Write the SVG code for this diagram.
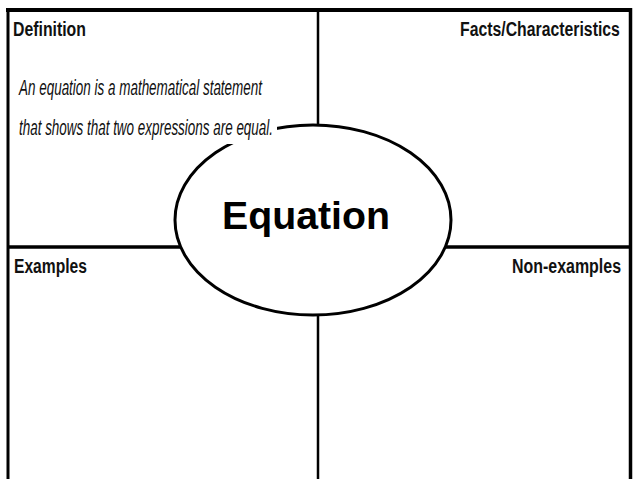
<svg xmlns="http://www.w3.org/2000/svg" width="638" height="479" viewBox="0 0 638 479">
<style>
.line{stroke:#000;fill:none;stroke-linecap:butt}
.lbl{font-family:"Liberation Sans",Arial,sans-serif;font-weight:bold;font-size:21px;fill:#111}
.def{font-family:"Liberation Sans",Arial,sans-serif;font-style:italic;font-size:22px;fill:#111}
.main{font-family:"Liberation Sans",Arial,sans-serif;font-weight:bold;font-size:38px;fill:#000}
</style>
<rect width="638" height="479" fill="#fff"/>
<g id="connectors">
<line class="line" x1="6" y1="10" x2="632" y2="10" stroke-width="4"/>
<line class="line" x1="8" y1="8" x2="8" y2="479" stroke-width="3"/>
<line class="line" x1="630.5" y1="8" x2="630.5" y2="479" stroke-width="3.5"/>
<line class="line" x1="318" y1="10" x2="318" y2="479" stroke-width="2.5"/>
<line class="line" x1="8" y1="247" x2="631" y2="247" stroke-width="3.5"/>
</g>
<g id="definition">
<text class="lbl" transform="translate(13,35.5) scale(0.754,1)">Definition</text>
</g>
<g id="facts">
<text class="lbl" transform="translate(460,35.5) scale(0.753,1)">Facts/Characteristics</text>
</g>
<g id="examples">
<text class="lbl" transform="translate(14,272.5) scale(0.745,1)">Examples</text>
</g>
<g id="nonexamples">
<text class="lbl" transform="translate(512,272.5) scale(0.76,1)">Non-examples</text>
</g>
<g id="equation">
<ellipse cx="313" cy="220" rx="138" ry="95" fill="#fff" stroke="#000" stroke-width="3"/>
<text class="main" x="222" y="228.5" textLength="168" lengthAdjust="spacingAndGlyphs">Equation</text>
</g>
<g id="definition-text">
<rect x="10" y="66" width="267" height="78" fill="#fff"/>
<text class="def" x="19" y="95" textLength="243" lengthAdjust="spacingAndGlyphs">An equation is a mathematical statement</text>
<text class="def" x="19" y="135" textLength="254" lengthAdjust="spacingAndGlyphs">that shows that two expressions are equal.</text>
</g>
</svg>
